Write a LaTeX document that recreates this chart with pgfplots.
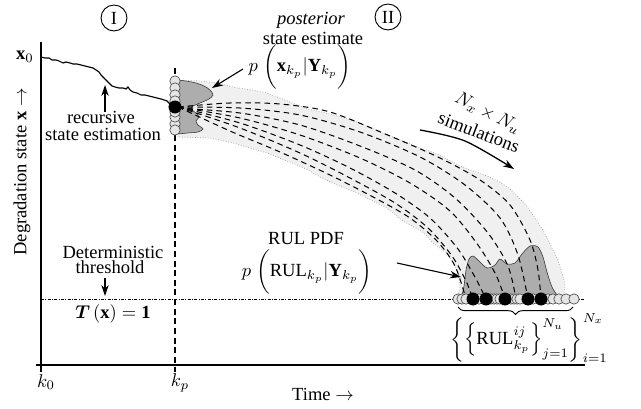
\documentclass[border=0pt]{standalone}
\usepackage{amsmath,bm}
\usepackage{fontspec}
\setmainfont{Liberation Serif}
\usepackage{pgfplots}
\pgfplotsset{compat=1.18}
\usetikzlibrary{arrows.meta,decorations.pathreplacing}
\pgfplotsset{traj/.style={black, line width=0.55pt, dash pattern=on 3pt off 2.2pt, smooth}}
\newcommand{\Tlab}{\mbox{$\bm{T}\,(\mathbf{x})=\mathbf{1}$}}
\newcommand{\Plab}{\mbox{$p\;\bigg(\mathbf{x}_{k_p}|\mathbf{Y}_{k_p}\bigg)$}}
\newcommand{\Rlab}{\mbox{$p\;\bigg(\mathrm{RUL}_{k_p}|\mathbf{Y}_{k_p}\bigg)$}}
\newcommand{\Slab}{\mbox{$\bigg\{\Big\{\mathrm{RUL}^{ij}_{k_p}\Big\}^{N_u}_{j=1}\bigg\}^{N_x}_{i=1}$}}
\begin{document}
\begin{tikzpicture}[>={Stealth[length=6pt,width=4pt]}]
\begin{axis}[
  width=346.14pt, height=220.86pt, scale only axis,
  xmin=0,xmax=641,ymin=0,ymax=409, y dir=reverse,
  hide axis, clip=false,
]
\addplot[draw=none] coordinates {(0,0)(641,409)};
% light band
\addplot[draw=gray!70, densely dotted, fill=gray!12, line width=0.4pt] coordinates {
(178,80)(200,81)(217,83)(237,88)(252,90)(267,93)(280,98)(290,102)(307,109)(322,112)(337,116)(357,122)(380,132)(403,141)(423,149)(435,153)(447,159)(460,166)(473,171)(487,176)(500,182)(510,189)(517,196)(526,205)(533,215)(543,230)(548,240)(553,250)(558,260)(561,270)(564,280)(565,287)(563,297)
(458,297)(460,287)(459,280)(458,273)(453,263)(447,253)(440,248)(433,243)(427,236)(420,230)(410,225)(400,219)(393,213)(385,207)(377,203)(357,193)(337,185)(320,177)(308,170)(297,165)(282,159)(267,153)(250,148)(233,143)(210,138)(178,137)(178,80)
};
% posterior PDF
\addplot[draw=gray!40!black, line width=0.3pt, fill=gray!64, smooth] coordinates {
(177,80)(186,81)(196,83)(204,86)(210,90)(213,95)(209,99)(200,103)(193,106)(191,109)(196,113)(199,117)(196,121)(198,125)(203,129)(198,132)(188,133)(177,134)
};
% RUL PDF
\addplot[draw=gray!40!black, line width=0.3pt, fill=gray!64, smooth] coordinates {
(461,299)(464,286)(466,270)(469,259)(473,256)(479,261)(487,268)(495,265)(500,259)(507,264)(515,263)(522,254)(530,246)(538,247)(543,257)(547,272)(552,287)(558,296)(563,299)
};
% recursive estimation path
\addplot[black, line width=0.6pt] coordinates {
(41,57)(45,58)(49,58)(52,60)(56,60)(59,61)(63,63)(66,62)(70,63)(73,64)(77,64)(81,65)(85,66)(89,67)(93,68)(96,70)(99,72)(101,75)(103,77)(105,79)(107,81)(109,83)(112,86)(115,87)(119,88)(123,88)(126,89)(128,87)(130,90)(133,92)(137,93)(141,95)(145,95)(149,96)(153,97)(157,98)(161,99)(164,100)(167,101)(170,104)(173,107)
};
% trajectories
\addplot[traj] coordinates {(178,107)(230,103)(280,104)(330,112)(390,136)(440,158)(480,180)(510,205)(530,240)(538,270)(541,299)};
\addplot[traj] coordinates {(178,107)(240,108)(300,115)(360,132)(420,157)(465,185)(500,218)(518,255)(528,299)};
\addplot[traj] coordinates {(178,108)(240,113)(300,125)(360,146)(415,170)(455,198)(488,233)(508,266)(516,299)};
\addplot[traj] coordinates {(178,107)(240,118)(300,135)(360,158)(410,183)(450,211)(478,245)(496,275)(505,299)};
\addplot[traj] coordinates {(178,107)(240,123)(300,145)(350,168)(395,193)(430,218)(458,249)(476,279)(486,299)};
\addplot[traj] coordinates {(178,107)(240,128)(300,153)(350,178)(395,203)(428,228)(452,256)(466,281)(473,299)};
\addplot[traj] coordinates {(178,107)(230,131)(280,152)(330,175)(375,198)(410,218)(437,241)(455,266)(466,299)};
% vertical dashed at kp
\addplot[black, line width=0.6pt, dash pattern=on 3.2pt off 2pt] coordinates {(175,68)(175,372)};
% threshold
\addplot[black, line width=0.45pt, dash pattern=on 1.6pt off 0.8pt on 0.4pt off 0.8pt] coordinates {(41,299)(585,299)};
% axes
\addplot[black, line width=0.6pt] coordinates {(41,42)(41,372)};
\addplot[black, line width=0.6pt] coordinates {(36,365)(585,365)};
% particles at kp
\addplot[only marks, mark=*, mark size=2.8pt, mark options={fill=gray!20, draw=gray!60!black, line width=0.35pt}] coordinates {(175,81)(175,88)(175,95)(175,101)(175,124)(175,117)(175,130)(175,112)};
\addplot[only marks, mark=*, mark size=3.3pt, mark options={fill=black, draw=black}] coordinates {(175,107)};
% particles at threshold
\addplot[only marks, mark=*, mark size=2.8pt, mark options={fill=gray!20, draw=gray!60!black, line width=0.35pt}] coordinates {(458,299)(462,299)(466,299)(479,299)(491,299)(494,299)(497,299)(500,299)(511,299)(514,299)(517,299)(520,299)(533,299)(548,299)(553,299)(559,299)(566,299)(574,299)};
\addplot[only marks, mark=*, mark size=3.3pt, mark options={fill=black, draw=black}] coordinates {(473,299)(486,299)(505,299)(528,299)(541,299)};
% arrows
\addplot[black, line width=0.6pt, ->] coordinates {(105,112)(105,85)};
\addplot[black, line width=0.6pt, ->] coordinates {(105,278)(105,296)};
\addplot[black, line width=0.6pt, ->] coordinates {(243,69)(212,88)};
\addplot[black, line width=0.6pt, ->] coordinates {(397,263)(461,277)};
\addplot[black, line width=0.7pt, smooth, ->] coordinates {(420,130)(465,141)(514,169)};
\end{axis}
\begin{scope}[shift={(0pt,220.86pt)}, x=0.54pt, y=-0.54pt]
\draw[black, line width=0.5pt, decorate, decoration={brace, amplitude=4pt}] (573,307) -- (458,307);
\node[circle, draw, line width=0.5pt, minimum size=14pt, inner sep=0pt] at (114,18) {I};
\node[circle, draw, line width=0.5pt, minimum size=14pt, inner sep=0pt] at (388,17) {II};
\node at (25,57) {$\mathbf{x}_0$};
\node[rotate=90] at (22,172) {Degradation state $\mathbf{x}$ $\rightarrow$};
\node at (323,394) {Time $\rightarrow$};
\node at (46,382) {$k_0$};
\node at (180,383) {$k_p$};
\node at (101,117) {recursive};
\node at (103,134) {state estimation};
\node at (113,252) {Deterministic};
\node at (110,267) {threshold};
\node at (113,314) {\Tlab};
\node at (311,20) {\textit{posterior}};
\node at (313,38) {state estimate};
\node at (300,67) {\Plab};
\node[rotate=-27] at (488,113) {$N_x\times N_u$};
\node[rotate=-21] at (479,132) {simulations};
\node at (306,239) {RUL PDF};
\node at (307,272) {\Rlab};
\node at (529,338) {\Slab};
\end{scope}
\end{tikzpicture}
\end{document}
